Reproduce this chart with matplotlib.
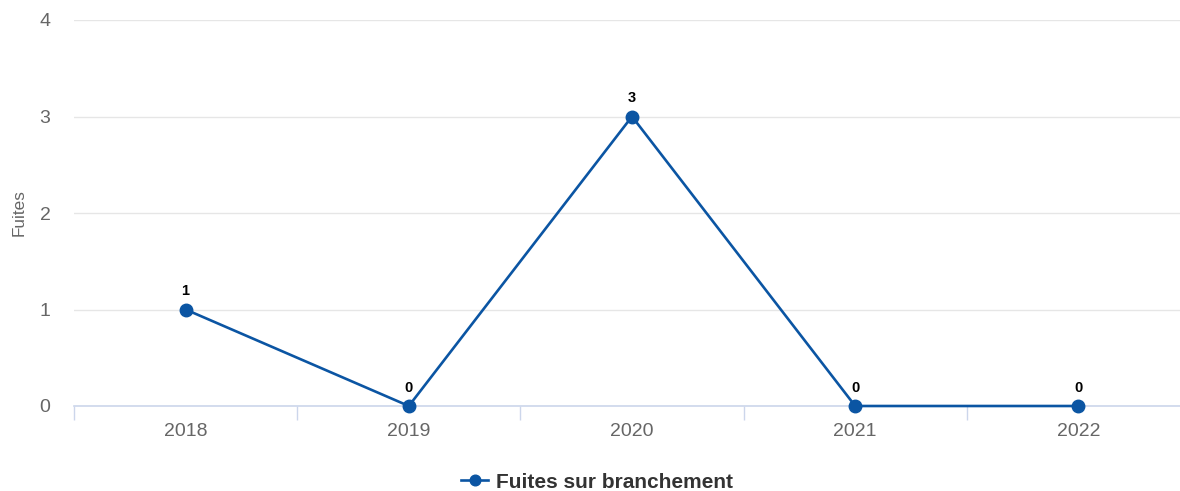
import matplotlib.pyplot as plt
from matplotlib.ticker import FixedLocator

years = ["2018", "2019", "2020", "2021", "2022"]
fuites = [1, 0, 3, 0, 0]
y_ticks = [0, 1, 2, 3, 4]

plt.rcParams['font.family'] = ['Liberation Sans', 'DejaVu Sans']

line_color = '#0b55a3'
fig = plt.figure(figsize=(11.8, 4.91), dpi=100)
ax = fig.add_axes([74 / 1180, 1 - 406 / 491, (1190 - 74) / 1180, 386 / 491])

x = list(range(len(years)))
ax.plot(x, fuites, color=line_color, linewidth=1.9, marker='o', markersize=9,
        label='Fuites sur branchement', zorder=3, clip_on=False)
for xi, v in zip(x, fuites):
    ax.annotate(str(v), (xi, v), xytext=(0, 8), textcoords='offset points',
                ha='center', va='bottom', fontsize=10.5, fontweight='bold', color='black')

ax.set_xlim(-0.5, len(years) - 0.5)
ax.set_ylim(0, 4)
ax.set_xticks(x)
ax.set_xticklabels(years)
ax.xaxis.set_minor_locator(FixedLocator([i - 0.5 for i in range(len(years) + 1)]))
ax.set_yticks(y_ticks)

ax.grid(axis='y', color='#e6e6e6', linewidth=1)
ax.set_axisbelow(True)
for side in ['top', 'right', 'left']:
    ax.spines[side].set_visible(False)
ax.spines['bottom'].set_color('#ccd6eb')
ax.spines['bottom'].set_linewidth(1.2)
ax.spines['bottom'].set_zorder(2)

ax.tick_params(axis='x', which='major', length=0, labelsize=14, labelcolor='#666666', pad=12)
ax.tick_params(axis='x', which='minor', length=10, color='#ccd6eb', width=1)
ax.tick_params(axis='y', length=0, labelsize=14, labelcolor='#666666', pad=17)

ax.set_ylabel('Fuites', fontsize=12.3, color='#666666')
ax.yaxis.set_label_coords(-47 / 1116, 0.5)

fig.legend(loc='center', bbox_to_anchor=(597 / 1180, 1 - 482 / 491), frameon=False,
           prop={'size': 15, 'weight': 'bold'}, labelcolor='#333333',
           handlelength=1.3, handletextpad=0.35, markerscale=0.85, borderpad=0.1)

fig.savefig('out.png', dpi=100)
